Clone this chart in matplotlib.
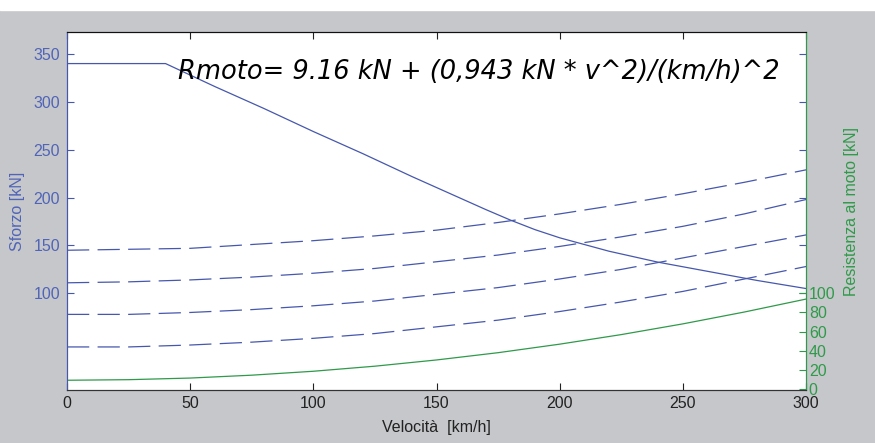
import matplotlib
matplotlib.use("Agg")
from matplotlib import pyplot as plt
from matplotlib.patches import Rectangle

plt.rcParams['font.family'] = ['Liberation Sans', 'DejaVu Sans']
plt.rcParams['lines.scale_dashes'] = False

# tractive effort curve [kN] vs speed [km/h]
v_traz = [0, 40, 60, 80, 100, 120, 140, 160, 170, 180, 190, 200, 220, 240, 260, 280, 300]
f_traz = [340, 340, 316, 293, 269, 246, 222, 199, 187.5, 176.5, 166.5, 158, 144, 132.5, 123, 113.5, 105]

# motion resistance and the four dashed resistance curves (with gradients)
v_res = [0, 25, 50, 75, 100, 125, 150, 175, 200, 225, 250, 275, 300]
r_moto = [9.2, 9.8, 11.5, 14.5, 18.6, 23.9, 30.4, 38.0, 46.9, 56.9, 68.1, 80.5, 94.0]
r_pend1 = [145, 146, 147, 151, 155, 160, 166, 174, 183, 193, 204, 216, 229]
r_pend2 = [111, 112, 114, 117, 121, 126, 133, 140, 149, 159, 170, 183, 198]
r_pend3 = [78, 78, 80, 83, 87, 92, 99, 106, 115, 125, 137, 149, 161]
r_pend4 = [44, 44, 46, 49, 53, 58, 65, 72, 81, 91, 102, 115, 128]

x_ticks = [0, 50, 100, 150, 200, 250, 300]
left_ticks = [100, 150, 200, 250, 300, 350]
right_ticks = [0, 20, 40, 60, 80, 100]

blue = '#4658ad'
blue_txt = '#5064b8'
green = '#2f9a4a'
bg = '#c6c7ca'

fig = plt.figure(figsize=(8.75, 4.43), dpi=100, facecolor=bg)
fig.patches.append(Rectangle((0, 0.977), 1, 0.03, transform=fig.transFigure,
                             color='white', zorder=-1))
ax = fig.add_axes([0.0766, 0.1196, 0.8446, 0.8082])
ax2 = ax.twinx()

ax.plot(v_traz, f_traz, color=blue, lw=0.9)
for r in (r_pend1, r_pend2, r_pend3, r_pend4):
    ax.plot(v_res, r, color=blue, lw=0.9, ls='--', dashes=(16, 6))
ax2.plot(v_res, r_moto, color=green, lw=0.9)

ax.set_xlim(0, 300)
ax.set_ylim(-1, 373)
ax2.set_ylim(-1, 373)

ax.set_xticks(x_ticks)
ax.set_yticks(left_ticks)
ax2.set_yticks(right_ticks)

ax.tick_params(axis='x', direction='in', top=True, length=5, labelsize=11.5,
               colors='#222222', pad=4)
ax.tick_params(axis='y', direction='in', right=True, length=5, labelsize=11.5,
               colors=blue, labelcolor=blue_txt, pad=5)
ax2.tick_params(axis='y', direction='in', length=5, labelsize=11.5,
                colors=green, pad=2)

for a in (ax, ax2):
    a.spines['top'].set_color('#111111')
    a.spines['bottom'].set_color('#333333')
    a.spines['left'].set_color(blue)
    a.spines['right'].set_color(green)

ax.set_xlabel('Velocità  [km/h]', fontsize=11.5, color='#222222', labelpad=7)
ax.set_ylabel('Sforzo [kN]', fontsize=11.5, color=blue_txt, labelpad=6)
ax2.set_ylabel('Resistenza al moto [kN]', fontsize=11.5, color=green, labelpad=6)

ax.text(45, 324, 'Rmoto= 9.16 kN + (0,943 kN * v^2)/(km/h)^2', fontsize=18.5,
        family='DejaVu Sans', style='italic', va='baseline', ha='left',
        color='black')

fig.savefig('out.png', dpi=100, facecolor=bg)
